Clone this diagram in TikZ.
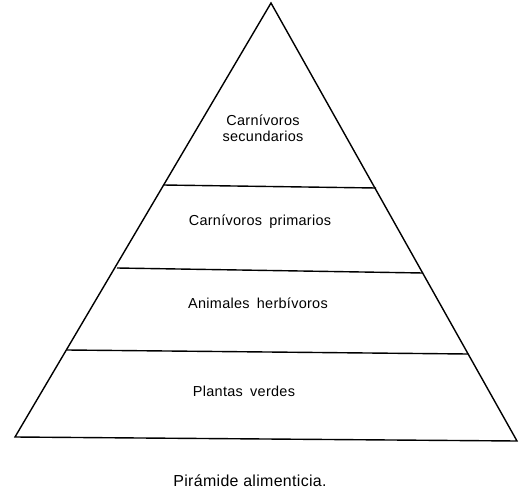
\documentclass[tikz,border=0pt]{standalone}
\usepackage{fontspec}
\setmainfont{Liberation Sans}[LetterSpace=2]
\begin{document}
\begin{tikzpicture}[x=1bp,y=-1bp,
  edge/.style={line width=1.4bp,line join=miter},
  lbl/.style={font=\fontsize{14.5}{16}\selectfont,align=center,inner sep=0pt},
  caplbl/.style={font=\fontsize{16}{18}\selectfont,inner sep=0pt}]
\useasboundingbox (0,0) rectangle (531,494);
\coordinate (apex) at (271,3);
\coordinate (bl) at (15,437);
\coordinate (br) at (517,441);
\draw[edge] (bl) -- (apex) -- (br) -- cycle;
\coordinate (l1a) at (163,185);
\coordinate (l1b) at (376,188);
\coordinate (l2a) at (117,268);
\coordinate (l2b) at (423,273);
\coordinate (l3a) at (67,350);
\coordinate (l3b) at (468,354);
\draw[edge] (l1a) -- (l1b);
\draw[edge] (l2a) -- (l2b);
\draw[edge] (l3a) -- (l3b);
\node[lbl] (cs) at (263,128) {Carnívoros\\secundarios};
\node[lbl] (cp) at (260,222) {Carnívoros\hspace{3bp} primarios};
\node[lbl] (ah) at (258,303) {Animales\hspace{3bp} herbívoros};
\node[lbl] (pv) at (244,391) {Plantas\hspace{3bp} verdes};
\node[caplbl] (cap) at (250,481) {Pirámide alimenticia.};
\end{tikzpicture}
\end{document}
